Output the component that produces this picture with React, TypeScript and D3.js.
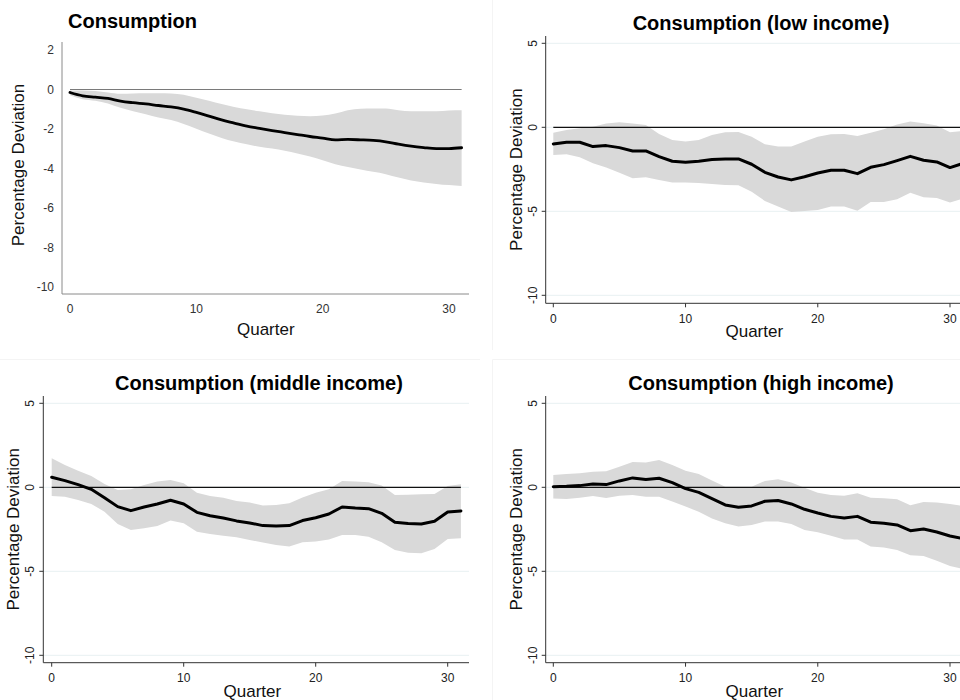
import React from "react";
import * as d3 from "d3";

// Quarters 0..31 after the shock
const quarters: number[] = d3.range(0, 32);

// Aggregate consumption: point estimate and confidence band
const aggMean = [-0.15, -0.32, -0.39, -0.45, -0.59, -0.67, -0.73, -0.81, -0.88, -0.99, -1.16, -1.35, -1.54, -1.7, -1.86, -1.97, -2.08, -2.18, -2.28, -2.38, -2.46, -2.55, -2.53, -2.55, -2.58, -2.65, -2.77, -2.87, -2.94, -2.99, -2.99, -2.95];
const aggUpper = [-0.05, -0.05, -0.08, -0.15, -0.22, -0.2, -0.19, -0.19, -0.2, -0.27, -0.42, -0.57, -0.74, -0.88, -1.0, -1.1, -1.2, -1.28, -1.33, -1.35, -1.32, -1.22, -1.05, -0.98, -0.96, -0.96, -1.05, -1.1, -1.1, -1.1, -1.06, -1.05];
const aggLower = [-0.29, -0.49, -0.57, -0.71, -0.93, -1.1, -1.25, -1.42, -1.55, -1.75, -1.99, -2.23, -2.45, -2.63, -2.77, -2.9, -2.99, -3.1, -3.24, -3.39, -3.58, -3.78, -3.92, -4.05, -4.17, -4.29, -4.46, -4.61, -4.71, -4.78, -4.84, -4.88];

// Low income households
const lowMean = [-0.99, -0.89, -0.89, -1.15, -1.09, -1.21, -1.41, -1.41, -1.75, -2.02, -2.08, -2.02, -1.92, -1.88, -1.88, -2.2, -2.68, -2.96, -3.13, -2.94, -2.72, -2.56, -2.56, -2.76, -2.38, -2.22, -1.98, -1.73, -1.96, -2.06, -2.4, -2.14];
const lowUpper = [-0.32, -0.16, -0.06, 0.04, 0.22, 0.3, 0.22, 0.14, -0.4, -0.75, -0.85, -0.75, -0.46, -0.3, -0.28, -0.56, -1.01, -1.15, -1.15, -0.85, -0.56, -0.42, -0.4, -0.52, -0.32, -0.12, 0.16, 0.34, 0.24, 0.1, -0.3, -0.22];
const lowLower = [-1.65, -1.61, -1.79, -2.14, -2.4, -2.7, -3.04, -2.98, -3.13, -3.29, -3.29, -3.31, -3.37, -3.43, -3.45, -3.83, -4.38, -4.72, -5.04, -4.98, -4.92, -4.72, -4.72, -4.96, -4.44, -4.44, -4.29, -3.89, -4.17, -4.21, -4.48, -4.23];

// Middle income households
const midMean = [0.6, 0.4, 0.16, -0.12, -0.62, -1.15, -1.39, -1.17, -0.99, -0.77, -0.99, -1.49, -1.69, -1.83, -2.0, -2.12, -2.28, -2.3, -2.28, -1.98, -1.81, -1.59, -1.17, -1.23, -1.27, -1.55, -2.08, -2.16, -2.18, -2.02, -1.47, -1.41];
const midUpper = [1.73, 1.33, 0.99, 0.67, 0.2, -0.16, -0.12, 0.14, 0.34, 0.44, 0.24, -0.32, -0.52, -0.62, -0.81, -0.91, -1.09, -1.05, -0.95, -0.6, -0.32, -0.12, 0.38, 0.34, 0.3, 0.1, -0.46, -0.44, -0.42, -0.4, 0.08, 0.18];
const midLower = [-0.52, -0.56, -0.75, -0.99, -1.45, -2.18, -2.54, -2.44, -2.3, -1.98, -2.14, -2.64, -2.78, -2.88, -2.98, -3.13, -3.29, -3.43, -3.53, -3.27, -3.23, -3.1, -2.84, -2.84, -2.94, -3.27, -3.73, -3.89, -3.93, -3.67, -3.08, -3.04];

// High income households
const highMean = [0.04, 0.06, 0.1, 0.2, 0.16, 0.38, 0.56, 0.46, 0.54, 0.28, -0.08, -0.3, -0.67, -1.05, -1.19, -1.11, -0.83, -0.79, -0.99, -1.31, -1.53, -1.73, -1.83, -1.73, -2.08, -2.14, -2.24, -2.58, -2.48, -2.66, -2.9, -3.06];
const highUpper = [0.73, 0.79, 0.83, 0.93, 0.95, 1.23, 1.51, 1.47, 1.63, 1.33, 0.99, 0.79, 0.4, 0.04, 0.04, 0.04, 0.38, 0.48, 0.28, -0.02, -0.32, -0.46, -0.5, -0.36, -0.62, -0.65, -0.71, -1.07, -0.87, -0.91, -0.99, -1.11];
const highLower = [-0.67, -0.69, -0.62, -0.52, -0.63, -0.5, -0.46, -0.56, -0.56, -0.85, -1.15, -1.45, -1.85, -2.14, -2.34, -2.24, -2.04, -2.04, -2.18, -2.54, -2.68, -2.88, -3.1, -3.1, -3.53, -3.59, -3.73, -4.05, -4.09, -4.37, -4.68, -4.86];

// Axis ticks
const xTicks = [0, 10, 20, 30];
const yTicksWide = [2, 0, -2, -4, -6, -8, -10];
const yTicksStata = [5, 0, -5, -10];

const FONT = "'Liberation Sans', Arial, Helvetica, sans-serif";
const BAND = "#d9d9d9";

type PanelProps = {
  title: string;
  mean: number[];
  upper: number[];
  lower: number[];
  kind: "smooth" | "stata";
  // pixel frame
  x0: number; // x of quarter 0
  x30: number; // x of quarter 30
  yTop: number; // y of top tick value
  yBottom: number; // y of bottom tick value
  axisLeft: number;
  axisTop: number;
  axisBottom: number;
  axisRight: number;
  titleX: number;
  titleY: number;
  titleAnchor: "start" | "middle";
};

function Panel(p: PanelProps) {
  const yTicks = p.kind === "smooth" ? yTicksWide : yTicksStata;
  const x = d3.scaleLinear().domain([0, 30]).range([p.x0, p.x30]);
  const y = d3
    .scaleLinear()
    .domain([yTicks[0], yTicks[yTicks.length - 1]])
    .range([p.yTop, p.yBottom]);
  const curve = p.kind === "smooth" ? d3.curveMonotoneX : d3.curveLinear;

  const area = d3
    .area<number>()
    .x((q) => x(q))
    .y0((q, i) => y(p.lower[i]))
    .y1((q, i) => y(p.upper[i]))
    .curve(curve);
  const line = d3
    .line<number>()
    .x((q) => x(q))
    .y((q, i) => y(p.mean[i]))
    .curve(curve);

  const last = quarters[quarters.length - 1];
  const stata = p.kind === "stata";
  const axisColor = stata ? "#333" : "#8a8a8a";
  const labelColor = stata ? "#222" : "#333";
  const midY = (p.axisTop + p.axisBottom) / 2;
  const xMid = stata ? x(15.2) : x(15.5);

  return (
    <g fontFamily={FONT}>
      {/* horizontal grid */}
      {stata &&
        yTicks.map((t) => (
          <line
            key={"g" + t}
            x1={p.axisLeft}
            x2={p.axisRight}
            y1={y(t)}
            y2={y(t)}
            stroke="#e8f0f2"
            strokeWidth={1}
          />
        ))}
      <path d={area(quarters) || ""} fill={BAND} stroke="none" />
      {/* reference line at zero */}
      <line
        x1={x(0)}
        x2={x(last)}
        y1={y(0)}
        y2={y(0)}
        stroke={stata ? "#111" : "#7a7a7a"}
        strokeWidth={stata ? 1.2 : 1}
      />
      <path
        d={line(quarters) || ""}
        fill="none"
        stroke="#000"
        strokeWidth={stata ? 3 : 2.8}
        strokeLinejoin="round"
        strokeLinecap="round"
      />
      {/* axes */}
      <line x1={p.axisLeft} x2={p.axisLeft} y1={p.axisTop} y2={p.axisBottom} stroke={axisColor} strokeWidth={1} />
      <line x1={p.axisLeft} x2={p.axisRight} y1={p.axisBottom} y2={p.axisBottom} stroke={axisColor} strokeWidth={1} />
      {yTicks.map((t) =>
        stata ? (
          <g key={"y" + t}>
            <line x1={p.axisLeft - 4} x2={p.axisLeft} y1={y(t)} y2={y(t)} stroke={axisColor} />
            <text
              transform={`translate(${p.axisLeft - 9},${y(t)}) rotate(-90)`}
              textAnchor="middle"
              fontSize={12}
              fill={labelColor}
            >
              {t}
            </text>
          </g>
        ) : (
          <text
            key={"y" + t}
            x={p.axisLeft - 8}
            y={y(t)}
            dy="0.35em"
            textAnchor="end"
            fontSize={12}
            fill={labelColor}
          >
            {t}
          </text>
        )
      )}
      {xTicks.map((t) => (
        <g key={"x" + t}>
          {stata && <line x1={x(t)} x2={x(t)} y1={p.axisBottom} y2={p.axisBottom + 4} stroke={axisColor} />}
          <text
            x={x(t)}
            y={p.axisBottom + 15}
            dy="0.35em"
            textAnchor="middle"
            fontSize={12}
            fill={labelColor}
          >
            {t}
          </text>
        </g>
      ))}
      <text
        x={xMid}
        y={p.axisBottom + (stata ? 34 : 41)}
        textAnchor="middle"
        fontSize={17}
        fill="#111"
      >
        Quarter
      </text>
      <text
        transform={`translate(${p.axisLeft - (stata ? 24 : 38)},${midY + (stata ? 0 : -3)}) rotate(-90)`}
        textAnchor="middle"
        fontSize={17}
        fill="#111"
      >
        Percentage Deviation
      </text>
      <text
        x={p.titleX}
        y={p.titleY}
        textAnchor={p.titleAnchor}
        fontSize={20}
        fontWeight="bold"
        fill="#000"
      >
        {p.title}
      </text>
    </g>
  );
}

export default function App() {
  return (
    <svg
      width={960}
      height={700}
      viewBox="0 0 960 700"
      style={{ position: "absolute", left: 0, top: 0, display: "block", background: "#fff" }}
    >
      <rect x={0} y={0} width={960} height={700} fill="#fff" />
      {/* faint frame edges between the four graphs */}
      <line x1={492.5} x2={492.5} y1={0} y2={350} stroke="#f4f4f4" />
      <line x1={0} x2={480} y1={359.5} y2={359.5} stroke="#f4f4f4" />
      <line x1={492.5} x2={960} y1={359.5} y2={359.5} stroke="#f4f4f4" />
      <line x1={492.5} x2={492.5} y1={359.5} y2={700} stroke="#f4f4f4" />

      <Panel
        title="Consumption"
        mean={aggMean}
        upper={aggUpper}
        lower={aggLower}
        kind="smooth"
        x0={70}
        x30={449}
        yTop={50}
        yBottom={287}
        axisLeft={62}
        axisTop={42}
        axisBottom={294}
        axisRight={469}
        titleX={68}
        titleY={28}
        titleAnchor="start"
      />
      <Panel
        title="Consumption (low income)"
        mean={lowMean}
        upper={lowUpper}
        lower={lowLower}
        kind="stata"
        x0={553.3}
        x30={950}
        yTop={43.3}
        yBottom={295.3}
        axisLeft={545.7}
        axisTop={36}
        axisBottom={303.3}
        axisRight={975}
        titleX={761}
        titleY={30}
        titleAnchor="middle"
      />
      <Panel
        title="Consumption (middle income)"
        mean={midMean}
        upper={midUpper}
        lower={midLower}
        kind="stata"
        x0={51.7}
        x30={447.7}
        yTop={403.3}
        yBottom={655.3}
        axisLeft={43.3}
        axisTop={396}
        axisBottom={662.7}
        axisRight={469}
        titleX={259}
        titleY={390}
        titleAnchor="middle"
      />
      <Panel
        title="Consumption (high income)"
        mean={highMean}
        upper={highUpper}
        lower={highLower}
        kind="stata"
        x0={553.3}
        x30={950}
        yTop={403.3}
        yBottom={655.3}
        axisLeft={545.7}
        axisTop={396}
        axisBottom={662.7}
        axisRight={975}
        titleX={761}
        titleY={390}
        titleAnchor="middle"
      />
    </svg>
  );
}
